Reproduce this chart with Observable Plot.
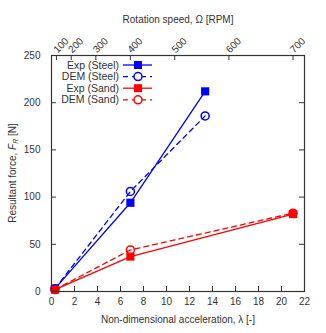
<!DOCTYPE html>
<html><head><meta charset="utf-8">
<script src="https://cdn.jsdelivr.net/npm/d3@7"></script>
<script src="https://cdn.jsdelivr.net/npm/@observablehq/plot@0.6"></script>
<style>body{margin:0;background:#fff;} svg{font-family:"Liberation Sans",Arial,sans-serif;}</style>
</head><body><div id="chart"></div>
<script>
// Data
const lambdaSteel = [0.3, 6.86, 13.36];
const expSteel = [3, 94, 212];
const demSteel = [3, 106, 186];
const lambdaSand = [0.3, 6.86, 21.0];
const expSand = [2, 37, 82];
const demSand = [2, 44, 83];
const xTicks = [0, 2, 4, 6, 8, 10, 12, 14, 16, 18, 20, 22];
const yTicks = [0, 50, 100, 150, 200, 250];
const rpmTicks = [100, 200, 300, 400, 500, 600, 700];
const lambdaPerRpm2 = 21 / (700 * 700); // λ = Ω²R/g mapping for top axis
const seriesNames = ["Exp (Steel)", "DEM (Steel)", "Exp (Sand)", "DEM (Sand)"];
const seriesColors = ["#0000ff", "#0000ff", "#ff0000", "#ff0000"];

const mk = (xs, ys) => xs.map((x, i) => ({x, y: ys[i]}));
const sExp = mk(lambdaSteel, expSteel), sDem = mk(lambdaSteel, demSteel);
const aExp = mk(lambdaSand, expSand), aDem = mk(lambdaSand, demSand);

const W = 326, H = 333, mL = 51, mR = 22, mT = 55, mB = 42;
const fw = W - mL - mR, fh = H - mT - mB;
const ink = "#333";

const plot = Plot.plot({
  width: W, height: H, marginLeft: mL, marginRight: mR, marginTop: mT, marginBottom: mB,
  style: {fontSize: "10px", fontFamily: "Liberation Sans, Arial, sans-serif", background: "#fff"},
  x: {domain: [0, 22]},
  y: {domain: [0, 250]},
  marks: [
    Plot.axisX({ticks: xTicks, tickSize: 0, tickPadding: 6, label: null, fontSize: 10, color: ink}),
    Plot.axisY({ticks: yTicks, tickSize: 0, tickPadding: 11, label: null, fontSize: 10, color: ink}),
    Plot.tickX(xTicks, {x: d => d, insetTop: fh - 5, stroke: ink}),
    Plot.tickX(rpmTicks, {x: d => d * d * lambdaPerRpm2, insetBottom: fh - 5, stroke: ink}),
    Plot.tickY(yTicks, {y: d => d, insetRight: fw - 5, stroke: ink}),
    Plot.tickY(yTicks, {y: d => d, insetLeft: fw - 5, stroke: ink}),
    Plot.text(rpmTicks, {x: d => d * d * lambdaPerRpm2, frameAnchor: "top", text: d => String(d), rotate: -45, textAnchor: "start", dx: -4, dy: -7, fontSize: 10, fill: ink}),
    Plot.text(["Rotation speed, Ω [RPM]"], {frameAnchor: "top", text: d => d, dy: -40, fontSize: 10, fill: ink}),
    Plot.text(["Non-dimensional acceleration, λ [-]"], {frameAnchor: "bottom", text: d => d, dy: 31, fontSize: 10, fill: ink}),
    Plot.line(sExp, {x: "x", y: "y", stroke: seriesColors[0], strokeWidth: 1.3}),
    Plot.line(sDem, {x: "x", y: "y", stroke: seriesColors[1], strokeWidth: 1.3, strokeDasharray: "5,4"}),
    Plot.line(aExp, {x: "x", y: "y", stroke: seriesColors[2], strokeWidth: 1.3}),
    Plot.line(aDem, {x: "x", y: "y", stroke: seriesColors[3], strokeWidth: 1.3, strokeDasharray: "5,4"}),
    Plot.dot(sDem, {x: "x", y: "y", r: 4, stroke: seriesColors[1], strokeWidth: 1.5, fill: "none"}),
    Plot.dot(aDem, {x: "x", y: "y", r: 4, stroke: seriesColors[3], strokeWidth: 1.5, fill: "none"}),
    Plot.dot(sExp, {x: "x", y: "y", symbol: "square", r: 4.6, fill: seriesColors[0]}),
    Plot.dot(aExp, {x: "x", y: "y", symbol: "square", r: 4.6, fill: seriesColors[2]}),
    Plot.frame({stroke: ink, strokeWidth: 1.2})
  ]
});
document.getElementById("chart").appendChild(plot);

const svg = d3.select(plot);
// Y title with italic F and subscript R
const yt = svg.append("text")
  .attr("transform", `translate(16,${mT + fh / 2}) rotate(-90)`)
  .attr("text-anchor", "middle").attr("font-size", 10).attr("fill", ink);
yt.append("tspan").text("Resultant force, ");
yt.append("tspan").attr("font-style", "italic").text("F");
yt.append("tspan").attr("font-size", 7).attr("dy", 2).attr("font-style", "italic").text("R");
yt.append("tspan").attr("dy", -2).text(" [N]");

// Legend
const lg = svg.append("g").attr("font-size", 10.5);
seriesNames.forEach((name, i) => {
  const y = 65 + i * 11.6;
  const dem = name.startsWith("DEM");
  const c = seriesColors[i];
  lg.append("text").attr("x", 119).attr("y", y).attr("dy", "0.35em").attr("text-anchor", "end").attr("fill", ink).text(name);
  lg.append("line").attr("x1", 123).attr("x2", 152).attr("y1", y).attr("y2", y)
    .attr("stroke", c).attr("stroke-width", 1.3).attr("stroke-dasharray", dem ? "5,4" : null);
  if (dem) lg.append("circle").attr("cx", 138).attr("cy", y).attr("r", 4).attr("fill", "#fff").attr("stroke", c).attr("stroke-width", 1.5);
  else lg.append("rect").attr("x", 134).attr("y", y - 4).attr("width", 8).attr("height", 8).attr("fill", c);
});
</script></body></html>
